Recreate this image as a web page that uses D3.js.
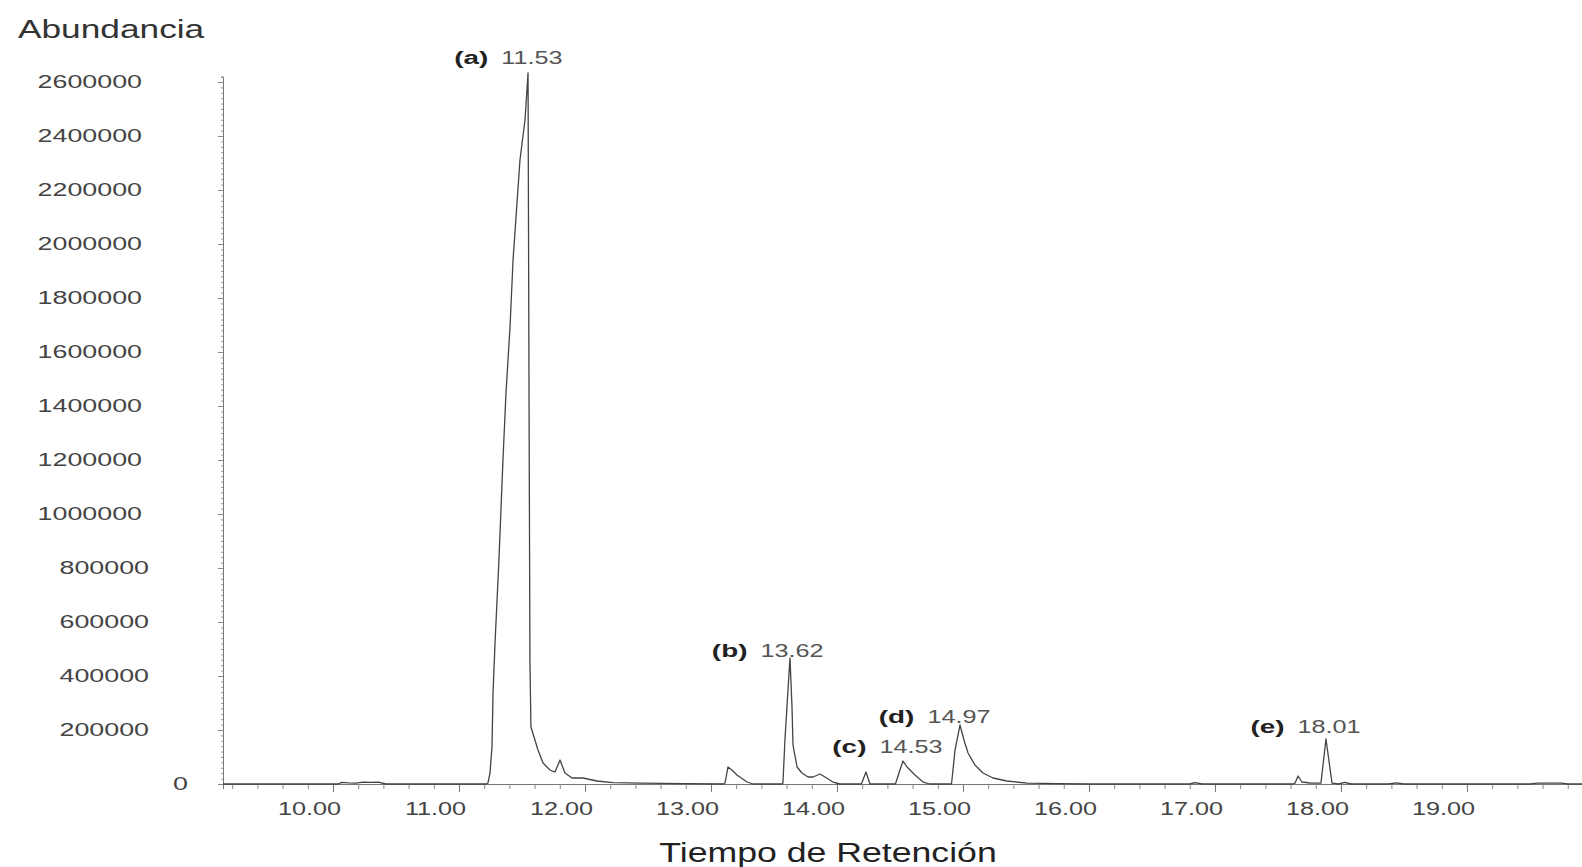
<!DOCTYPE html>
<html>
<head>
<meta charset="utf-8">
<script src="https://cdn.jsdelivr.net/npm/d3@7"></script>
<style>
  body { margin: 0; background: #fff; }
  svg { display: block; font-family: "Liberation Sans", Arial, sans-serif; }
</style>
</head>
<body>
<div id="chart"></div>
<script>
// retention time (min) and abundance of the chromatogram trace
const times = [9.127, 10.00, 10.04, 10.07, 10.12, 10.18, 10.24, 10.30, 10.36, 10.42,
  11.20, 11.214, 11.230, 11.246, 11.262, 11.270, 11.286, 11.317, 11.349, 11.373, 11.405,
  11.429, 11.484, 11.524, 11.548, 11.556, 11.563, 11.571, 11.603, 11.627, 11.667, 11.722,
  11.762, 11.802, 11.841, 11.897, 11.984, 12.095, 12.222, 12.45, 12.80,
  13.10, 13.111, 13.135, 13.175, 13.206, 13.286, 13.333,
  13.563, 13.571, 13.587, 13.611, 13.627, 13.643, 13.651, 13.683, 13.722, 13.770, 13.810,
  13.865, 13.905, 13.968, 14.024,
  14.194, 14.230, 14.262,
  14.464, 14.492, 14.524, 14.556, 14.619, 14.683, 14.738,
  14.909, 14.937, 14.976, 15.008, 15.040, 15.095, 15.159, 15.238, 15.349, 15.508, 15.75, 16.00,
  16.80, 16.84, 16.90,
  17.62, 17.635, 17.659, 17.690, 17.754, 17.841, 17.881, 17.929, 17.98, 18.03, 18.08,
  18.38, 18.44, 18.50, 19.50, 19.56, 19.75, 19.80, 19.913]
const abundance = [0, 0, 0, 6000, 4000, 3000, 7000, 6000, 7000, 0,
  0, 0, 3700, 40700, 137000, 337000, 522200, 829600, 1200000, 1448100, 1692600,
  1940700, 2311100, 2459300, 2633300, 1422200, 459300, 211100, 163000, 125900, 77800, 51900,
  44400, 88900, 40700, 22200, 22200, 11100, 5000, 3000, 1500,
  0, 3700, 63000, 48100, 33300, 7400, 0,
  0, 3700, 163000, 348100, 466700, 285200, 144400, 63000, 40700, 25900, 25900,
  37000, 25900, 7400, 0,
  0, 44400, 0,
  0, 40700, 85200, 63000, 33300, 7400, 0,
  0, 125900, 218500, 163000, 114800, 70400, 40700, 22200, 11100, 3000, 1500, 0,
  0, 5000, 0,
  0, 3000, 29600, 7400, 3700, 3000, 166700, 3000, 0, 6000, 0,
  0, 4000, 0, 0, 3000, 3000, 0, 0]

// peak annotations: tag, retention label, anchor time and abundance of the label
const peakTags = ["(a)", "(b)", "(c)", "(d)", "(e)"]
const peakLabels = ["11.53", "13.62", "14.53", "14.97", "18.01"]
const peakLabelTimes = [11.579, 13.643, 14.587, 14.968, 17.905]
const peakLabelAbund = [2666700, 470400, 114800, 225900, 188900]

const xMajorTicks = d3.range(10, 20, 1)
const xMinorTicks = d3.range(9.2, 19.91, 0.2)
const yMajorTicks = d3.range(0, 2600001, 200000)
const yMinorTicks = d3.range(0, 2620001, 20000)

const width = 1582, height = 867

const svg = d3.select("#chart").append("svg")
    .attr("width", width)
    .attr("height", height)

// scales
const x = d3.scaleLinear().domain([9.127, 19.913]).range([223, 1582])
const y = d3.scaleLinear().domain([0, 2620000]).range([784, 784 - 2620000 / 200000 * 54])

// stretch text horizontally like the scanned original
function stretch(sel, k) {
    sel.each(function () {
        const w = this.getComputedTextLength()
        this.setAttribute("textLength", w * k)
        this.setAttribute("lengthAdjust", "spacingAndGlyphs")
    })
}

// y axis minor ticks
svg.append("g")
    .attr("transform", "translate(" + x.range()[0] + ",0)")
    .call(d3.axisLeft(y).tickValues(yMinorTicks).tickSize(2).tickFormat(""))
    .call(g => g.select(".domain").attr("stroke", "#777"))
    .call(g => g.selectAll(".tick line").attr("stroke", "#999"))

// y axis major ticks and labels
const rightEdge = { 1: 188, 6: 149, 7: 142 }
const yAxis = svg.append("g")
    .attr("transform", "translate(" + x.range()[0] + ",0)")
    .call(d3.axisLeft(y).tickValues(yMajorTicks).tickSize(5).tickFormat(d3.format("d")))
    .call(g => g.select(".domain").remove())
    .call(g => g.selectAll(".tick line").attr("stroke", "#888"))
yAxis.selectAll(".tick text")
    .attr("x", d => rightEdge[String(d).length] - x.range()[0])
    .attr("fill", "#444")
    .style("font-size", "18px")
stretch(yAxis.selectAll(".tick text"), 1.49)

// x axis minor ticks
svg.append("g")
    .attr("transform", "translate(0," + y(0) + ")")
    .call(d3.axisBottom(x).tickValues(xMinorTicks).tickSize(5).tickFormat(""))
    .call(g => g.select(".domain").attr("stroke", "#777"))
    .call(g => g.selectAll(".tick line").attr("stroke", "#888"))

// x axis major ticks and labels
const xAxis = svg.append("g")
    .attr("transform", "translate(0," + y(0) + ")")
    .call(d3.axisBottom(x).tickValues(xMajorTicks).tickSize(8).tickFormat(d3.format(".2f")))
    .call(g => g.select(".domain").remove())
    .call(g => g.selectAll(".tick line").attr("stroke", "#777"))
xAxis.selectAll(".tick text")
    .attr("y", 31)
    .attr("dy", 0)
    .attr("dx", -24)
    .attr("fill", "#444")
    .style("font-size", "18px")
stretch(xAxis.selectAll(".tick text"), 1.4)

// chromatogram trace
const line = d3.line()
    .x(d => x(d[0]))
    .y(d => y(d[1]))

svg.append("path")
    .datum(d3.zip(times, abundance))
    .attr("fill", "none")
    .attr("stroke", "#444")
    .attr("stroke-width", 1.3)
    .attr("stroke-linejoin", "round")
    .attr("d", line)

// peak labels
const peaks = svg.append("g").selectAll("g")
    .data(peakTags.map((tag, i) => ({ tag, label: peakLabels[i], t: peakLabelTimes[i], v: peakLabelAbund[i] })))
    .enter().append("g")
    .attr("transform", d => "translate(" + x(d.t) + "," + y(d.v) + ")")

peaks.each(function (d) {
    const g = d3.select(this)
    const num = g.append("text")
        .attr("text-anchor", "middle")
        .attr("fill", "#555")
        .style("font-size", "18px")
        .text(d.label)
    const half = num.node().getComputedTextLength() * 1.4 / 2
    stretch(num, 1.4)
    const tag = g.append("text")
        .attr("text-anchor", "start")
        .attr("fill", "#222")
        .style("font-size", "18px")
        .style("font-weight", "bold")
        .text(d.tag)
    const tagW = tag.node().getComputedTextLength() * 1.55
    stretch(tag, 1.55)
    tag.attr("x", -half - 13 - tagW)
})

// axis titles
const yTitle = svg.append("text")
    .attr("x", 18)
    .attr("y", 38)
    .attr("fill", "#333")
    .style("font-size", "25px")
    .text("Abundancia")
stretch(yTitle, 1.41)

const xTitle = svg.append("text")
    .attr("x", 828)
    .attr("y", 862)
    .attr("text-anchor", "middle")
    .attr("fill", "#222")
    .style("font-size", "27px")
    .text("Tiempo de Retención")
stretch(xTitle, 1.32)
</script>
</body>
</html>
